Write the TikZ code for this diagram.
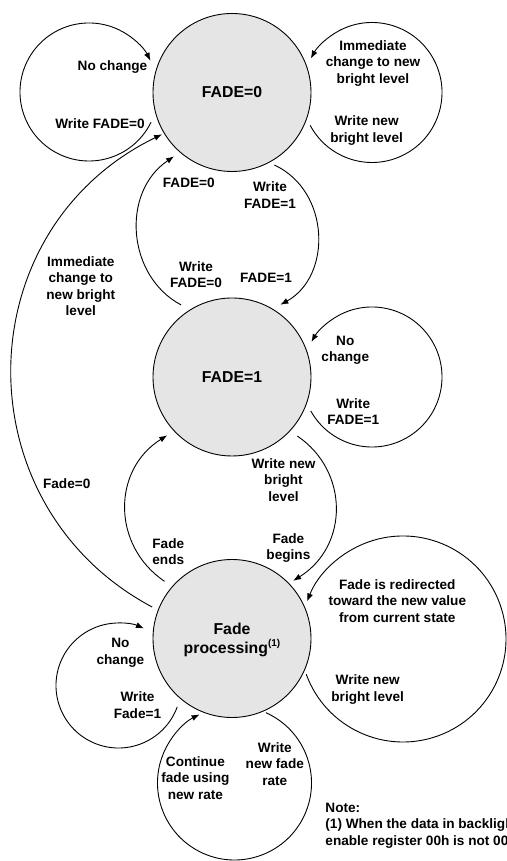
\documentclass[tikz,border=0pt]{standalone}
\usepackage{fontspec}
\setmainfont{Liberation Sans}
\usetikzlibrary{arrows.meta, calc}

\begin{document}
\begin{tikzpicture}[x=1pt, y=1pt, line width=0.9pt, >={Latex[length=8pt, width=6pt]},
		fadestate/.style={draw, circle, fill=black!10, minimum size=158pt, inner sep=0pt, align=center, font=\fontsize{15.8}{19}\selectfont\bfseries},
		txt/.style={align=center, inner sep=0pt, font=\fontsize{13.6}{16.4}\selectfont\bfseries}]
		\useasboundingbox (0, 0) rectangle (506, 861);

		\node[fadestate] (F0) at (232, 768.5) {FADE=0};
		\node[fadestate] (F1) at (232, 484) {FADE=1};
		\node[fadestate, text depth=0pt] (P) at (232, 222.5) {Fade\\processing\raisebox{7pt}{\fontsize{10}{10}\selectfont(1)}};

		\coordinate (C0l) at (89, 769);
		\coordinate (C0r) at (372, 768.5);
		\coordinate (C1r) at (372, 484);
		\coordinate (C2l) at (118.5, 175.5);
		\coordinate (C2b) at (234.5, 78);
		\coordinate (C2r) at (403, 222);

		\draw[->] ($(C0l)+(-26:69pt)$) arc[start angle=-26, end angle=-333, radius=69pt];
		\draw[->] ($(C0r)+(208:70pt)$) arc[start angle=208, end angle=511, radius=70pt];
		\draw[->] ($(C1r)+(209:70pt)$) arc[start angle=209, end angle=510, radius=70pt];
		\draw[->] ($(C2l)+(-20:62.5pt)$) arc[start angle=-20, end angle=-294, radius=62.5pt];
		\draw[->] ($(C2b)+(66:77pt)$) arc[start angle=66, end angle=-243, radius=77pt];
		\draw[->] ($(C2r)+(200:103pt)$) arc[start angle=200, end angle=518.6, radius=103pt];

		\draw[->, shorten <=5.6pt, shorten >=8.5pt] (F0.-62) to[out=-25, in=29, looseness=1.18] (F1.59);
		\draw[->, shorten <=10pt, shorten >=7pt] (F1.122.6) to[out=152, in=214, looseness=1.16] (F0.229.5);
		\draw[->, shorten <=6.4pt, shorten >=2pt] (P.159.4) to[out=152, in=206, looseness=1.19] (F0.211.6);
		\draw[->, shorten <=8.7pt, shorten >=4.7pt] (F1.-43) to[out=-34, in=32, looseness=1.19] (P.44);
		\draw[->, shorten <=9pt, shorten >=7.8pt] (P.139) to[out=146, in=212, looseness=1.2] (F1.223.5);

		\node[txt] (t1) at (112.5, 794.3) {No change};
		\node[txt] (t2) at (100, 737.7) {Write FADE=0};
		\node[txt] (t3) at (373, 797.7) {Immediate\\change to new\\bright level};
		\node[txt] (t4) at (366.6, 730.5) {Write new\\bright level};
		\node[txt] (t5) at (270, 666) {Write\\FADE=1};
		\node[txt] (t6) at (266, 583) {FADE=1};
		\node[txt] (t7) at (188.8, 677.7) {FADE=0};
		\node[txt] (t8) at (196, 586.3) {Write\\FADE=0};
		\node[txt] (t9) at (80.8, 574.7) {Immediate\\change to\\new bright\\level};
		\node[txt] (t10) at (345.3, 511) {No\\change};
		\node[txt] (t11) at (353.2, 449.7) {Write\\FADE=1};
		\node[txt] (t12) at (283.5, 381.2) {Write new\\bright\\level};
		\node[txt] (t13) at (288.4, 312.7) {Fade\\begins};
		\node[txt] (t14) at (168.3, 309.3) {Fade\\ends};
		\node[txt] (t15) at (66.7, 377) {Fade=0};
		\node[txt] (t16) at (397.3, 260.1) {Fade is redirected\\toward the new value\\from current state};
		\node[txt] (t17) at (367.7, 171.5) {Write new\\bright level};
		\node[txt] (t18) at (120.4, 208.2) {No\\change};
		\node[txt] (t19) at (137.5, 155.7) {Write\\Fade=1};
		\node[txt] (t20) at (195.4, 83.1) {Continue\\fade using\\new rate};
		\node[txt] (t21) at (274.8, 97) {Write\\new fade\\rate};
		\node[txt, align=left, anchor=north west] (t22) at (325, 58.6) {Note:\\(1) When the data in backlight\\enable register 00h is not 00h};
	\end{tikzpicture}
\end{document}
